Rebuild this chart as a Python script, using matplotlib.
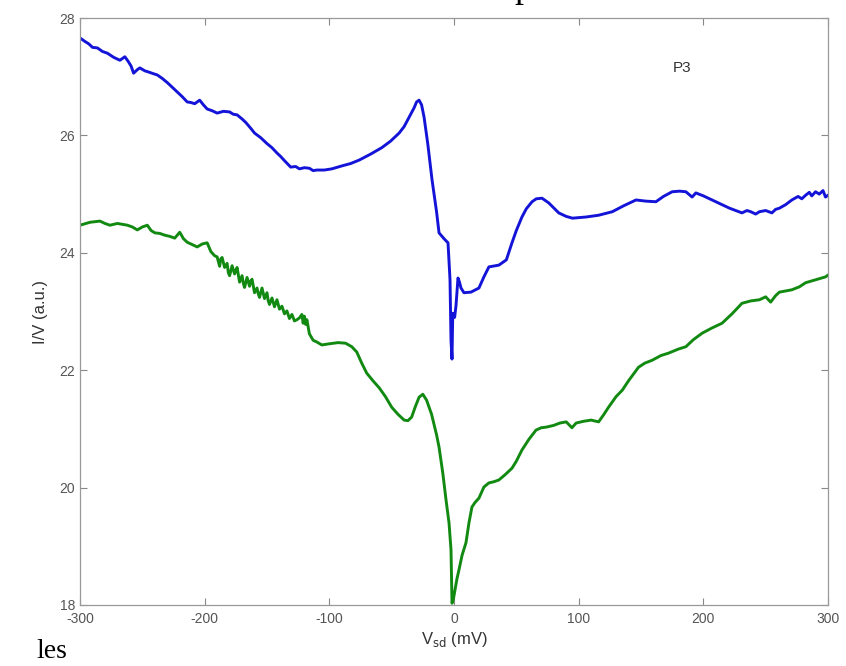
import matplotlib
matplotlib.use("Agg")
import matplotlib.pyplot as plt

# Upper trace (blue): source-drain voltage (mV) vs I/V (a.u.)
blue_v = [-300, -296, -293, -290, -286, -282, -278, -273, -268, -264, -261, -259,
          -257, -254, -252, -248, -245, -241, -238, -234, -230, -226, -222, -218,
          -214, -211, -208, -204, -201, -198, -194, -190, -185, -180, -177, -174,
          -170, -167, -163, -160, -155, -150, -146, -142, -139, -136, -131, -127,
          -124, -120, -116, -113, -110, -104, -98, -90, -83, -76, -67, -58, -51,
          -44, -40, -36, -32, -30, -28, -26, -24, -21, -17.6, -14, -12, -8, -4.8,
          -3.2, -2.4, -1.6, -1.0, 0.5, 1.6, 3.2, 4.4, 5.6, 8, 13.6, 20, 24, 28, 36,
          42, 46.5, 50, 54.5, 58, 62.6, 66, 70.6, 76, 84, 90, 95, 106, 116, 127,
          136, 146, 154, 162, 168, 175, 181, 186, 191, 194, 200, 207, 214, 221,
          226, 231, 235, 238, 242, 245, 250, 255, 258, 261, 266, 271, 276, 279,
          282, 285, 287, 290, 293, 296, 298, 300]
blue_iv = [27.66, 27.60, 27.56, 27.50, 27.49, 27.43, 27.40, 27.33, 27.28, 27.34,
           27.25, 27.18, 27.06, 27.12, 27.15, 27.10, 27.08, 27.05, 27.03, 26.97,
           26.90, 26.82, 26.74, 26.66, 26.57, 26.56, 26.54, 26.60, 26.52, 26.45,
           26.42, 26.38, 26.41, 26.40, 26.36, 26.35, 26.28, 26.22, 26.12, 26.04,
           25.96, 25.86, 25.79, 25.70, 25.64, 25.57, 25.46, 25.47, 25.43, 25.45,
           25.44, 25.40, 25.41, 25.41, 25.43, 25.48, 25.52, 25.58, 25.68, 25.79,
           25.90, 26.04, 26.15, 26.31, 26.47, 26.57, 26.60, 26.52, 26.31, 25.85,
           25.24, 24.70, 24.34, 24.24, 24.17, 23.54, 22.51, 22.19, 22.97, 22.90,
           23.10, 23.57, 23.50, 23.40, 23.32, 23.33, 23.40, 23.59, 23.76, 23.79,
           23.88, 24.17, 24.38, 24.61, 24.75, 24.87, 24.92, 24.93, 24.85, 24.68,
           24.62, 24.59, 24.61, 24.64, 24.70, 24.80, 24.90, 24.88, 24.87, 24.96,
           25.04, 25.05, 25.04, 24.95, 25.02, 24.97, 24.90, 24.83, 24.76, 24.72,
           24.68, 24.72, 24.70, 24.66, 24.70, 24.72, 24.68, 24.74, 24.76, 24.82,
           24.90, 24.96, 24.92, 24.98, 25.03, 24.97, 25.04, 25.00, 25.06, 24.95,
           24.98]

# Lower trace (green)
green_v = [-300, -292, -284, -280, -276, -270, -262, -258, -254, -250, -246, -243,
           -240, -236, -232, -228, -224, -222, -220, -217, -214, -210, -206, -202,
           -198, -195, -192, -190, -188, -187, -186, -184, -182, -181, -180, -178,
           -176, -175, -174, -172, -170, -169, -168, -166, -164, -163, -162, -160,
           -158, -157, -156, -154, -152, -150, -149, -148, -146, -144, -142, -140,
           -138, -136, -134, -132, -130, -128, -126, -124, -122, -121, -120, -119,
           -118, -116, -113, -110, -106, -100, -93, -87, -82, -78, -74, -70, -65,
           -60, -55, -50, -45, -40, -37, -34, -31, -28, -25, -22, -18, -14, -12, -9,
           -6.4, -4, -2.4, -1.6, -0.5, 0.8, 2.4, 4, 6.5, 9.6, 12, 14.4, 17, 20, 24,
           28, 32, 36, 41, 46.5, 50, 54.5, 60, 65.8, 70, 74, 80, 85, 90, 94.6, 98,
           104, 110, 116, 120, 124, 130, 135, 140, 148, 153, 159, 166, 172, 180,
           186, 192, 199, 207, 215, 223, 231, 238, 245, 250, 254, 258, 261, 266,
           271, 277, 282, 290, 298, 300]
green_iv = [24.47, 24.52, 24.54, 24.50, 24.47, 24.50, 24.47, 24.44, 24.39, 24.44,
            24.47, 24.38, 24.34, 24.33, 24.30, 24.28, 24.25, 24.30, 24.35, 24.24,
            24.18, 24.14, 24.10, 24.15, 24.17, 24.02, 23.95, 23.93, 23.77, 23.90,
            23.92, 23.75, 23.82, 23.66, 23.61, 23.78, 23.64, 23.70, 23.75, 23.50,
            23.61, 23.48, 23.41, 23.58, 23.43, 23.52, 23.55, 23.32, 23.40, 23.30,
            23.24, 23.40, 23.22, 23.32, 23.18, 23.12, 23.23, 23.08, 23.20, 23.04,
            23.09, 22.96, 23.01, 22.88, 22.95, 22.84, 22.86, 22.89, 22.95, 22.80,
            22.92, 22.78, 22.86, 22.62, 22.51, 22.48, 22.43, 22.45, 22.47, 22.46,
            22.40, 22.31, 22.12, 21.95, 21.82, 21.70, 21.55, 21.37, 21.25, 21.15,
            21.14, 21.20, 21.38, 21.54, 21.59, 21.49, 21.25, 20.90, 20.69, 20.25,
            19.79, 19.40, 18.94, 18.03, 18.10, 18.26, 18.45, 18.60, 18.85, 19.06,
            19.40, 19.67, 19.75, 19.82, 20.01, 20.08, 20.10, 20.13, 20.22, 20.33,
            20.45, 20.64, 20.82, 20.98, 21.02, 21.03, 21.06, 21.10, 21.12, 21.02,
            21.10, 21.13, 21.15, 21.12, 21.24, 21.37, 21.55, 21.66, 21.82, 22.05,
            22.12, 22.17, 22.25, 22.29, 22.36, 22.40, 22.52, 22.63, 22.72, 22.80,
            22.96, 23.14, 23.18, 23.20, 23.25, 23.16, 23.27, 23.33, 23.35, 23.37,
            23.42, 23.49, 23.54, 23.59, 23.62]

x_ticks = [-300, -200, -100, 0, 100, 200, 300]
y_ticks = [18, 20, 22, 24, 26, 28]

plt.rcParams['font.family'] = ['Liberation Sans', 'DejaVu Sans']
plt.rcParams['axes.unicode_minus'] = False

fig = plt.figure(figsize=(8.46, 6.66), dpi=100)
ax = fig.add_axes([80 / 846, 1 - 605 / 666, 748 / 846, 587 / 666])

ax.plot(blue_v, blue_iv, color='#1414d8', lw=2.1, solid_joinstyle='round')
ax.plot(green_v, green_iv, color='#128a12', lw=2.1, solid_joinstyle='round')

ax.set_xlim(-300, 300)
ax.set_ylim(18, 28)
ax.set_xticks(x_ticks)
ax.set_yticks(y_ticks)
ax.tick_params(direction='in', length=5, width=0.8, color='#888888',
               labelcolor='#555555', labelsize=10, top=True, right=True)
ax.tick_params(axis='x', pad=5)
for s in ax.spines.values():
    s.set_color('#999999')
    s.set_linewidth(0.9)

ax.set_xlabel(r'V$_{\rm sd}$ (mV)', fontsize=12, color='#333333', labelpad=3)
ax.set_ylabel('I/V (a.u.)', fontsize=12, color='#333333', labelpad=8)

ax.text(183, 27.15, 'P3', fontsize=11, color='#333333', ha='center', va='center')

# Fragments of surrounding page text at the image edges
fig.text(36 / 846, 14 / 666, 'les', fontsize=20, family='Liberation Serif',
         color='black', ha='left', va='center')
fig.text(523 / 846, 1.004, 'p', fontsize=26, family='Liberation Serif',
         color='black', ha='center', va='baseline')

fig.savefig('out.png', dpi=100)
